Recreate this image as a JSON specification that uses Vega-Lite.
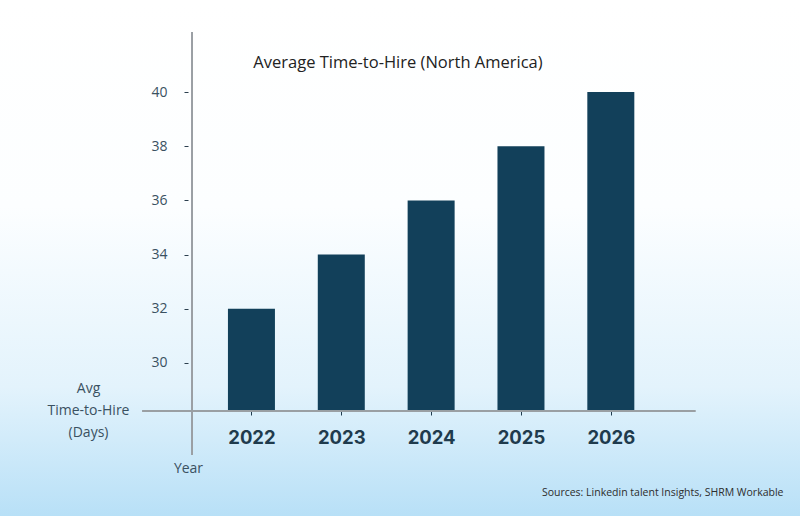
{
  "$schema": "https://vega.github.io/schema/vega-lite/v6.json",
  "autosize": {"type": "none"},
  "padding": 0,
  "width": 800,
  "height": 516,
  "background": "#ffffff",
  "config": {
    "view": {
      "stroke": null,
      "fill": {
        "gradient": "linear",
        "x1": 0, "y1": 0, "x2": 0, "y2": 1,
        "stops": [
          {"offset": 0, "color": "#ffffff"},
          {"offset": 0.4, "color": "#fcfeff"},
          {"offset": 0.75, "color": "#e3f3fc"},
          {"offset": 1, "color": "#b8e0f7"}
        ]
      }
    },
    "font": "Open Sans"
  },
  "title": {
    "text": "Average Time-to-Hire (North America)",
    "anchor": "middle",
    "fontSize": 16.5,
    "fontWeight": "normal",
    "font": "Open Sans",
    "color": "#222222",
    "baseline": "middle",
    "offset": 0,
    "dx": -2,
    "dy": 79
  },
  "data": {
    "values": [
      {"year": 2022, "days": 32},
      {"year": 2023, "days": 34},
      {"year": 2024, "days": 36},
      {"year": 2025, "days": 38},
      {"year": 2026, "days": 40}
    ]
  },
  "resolve": {"axis": {"x": "independent"}},
  "layer": [
    {
      "mark": {"type": "bar", "width": 47, "color": "#12405a"},
      "encoding": {
        "x": {
          "field": "year",
          "type": "quantitative",
          "scale": {"domain": [2019.257, 2028.05], "nice": false, "zero": false},
          "axis": {
            "orient": "bottom",
            "offset": -105,
            "values": [2022, 2023, 2024, 2025, 2026],
            "format": "d",
            "domain": false,
            "grid": false,
            "tickSize": 4,
            "tickColor": "#1f3b4d",
            "labelFont": "Inter",
            "labelFontSize": 18.5,
            "labelFontWeight": "bold",
            "labelColor": "#1f3b4d",
            "labelPadding": 13,
            "labelFlush": false,
            "title": "Year",
            "titleX": 188,
            "titleY": 57,
            "titleAlign": "center",
            "titleBaseline": "middle",
            "titleFont": "Open Sans",
            "titleFontSize": 14,
            "titleFontWeight": "normal",
            "titleColor": "#3a5161"
          }
        },
        "y": {
          "field": "days",
          "type": "quantitative",
          "scale": {"domain": [24.354, 43.395], "nice": false, "zero": false},
          "axis": {
            "orient": "left",
            "offset": -188,
            "values": [30, 32, 34, 36, 38, 40],
            "domain": false,
            "grid": false,
            "tickSize": 4,
            "tickColor": "#2b3f4e",
            "labelPadding": 17,
            "labelFont": "Open Sans",
            "labelFontSize": 14,
            "labelColor": "#3a5161",
            "title": ["Avg", "Time-to-Hire", "(Days)"],
            "titleAngle": 0,
            "titleX": -100,
            "titleY": 381,
            "titleAlign": "center",
            "titleBaseline": "top",
            "titleLineHeight": 22,
            "titleFont": "Open Sans",
            "titleFontSize": 14,
            "titleFontWeight": "normal",
            "titleColor": "#3a5161"
          }
        },
        "y2": {"datum": 28.229}
      }
    },
    {
      "mark": {"type": "rule", "color": "#9a9fa3", "strokeWidth": 1.5},
      "encoding": {
        "x": {
          "datum": 2020.787,
          "type": "quantitative",
          "axis": {
            "orient": "top",
            "offset": 0,
            "domain": false,
            "ticks": false,
            "labels": false,
            "grid": false,
            "title": "Sources: Linkedin talent Insights, SHRM Workable",
            "titleX": 783,
            "titleY": 492,
            "titleAlign": "right",
            "titleBaseline": "middle",
            "titleFont": "Open Sans",
            "titleFontSize": 10.5,
            "titleFontWeight": "normal",
            "titleColor": "#2d2d2d"
          }
        },
        "x2": {"datum": 2026.94},
        "y": {"datum": 28.229, "type": "quantitative"}
      }
    },
    {
      "mark": {"type": "rule", "color": "#9a9fa3", "strokeWidth": 1.5},
      "encoding": {
        "x": {"datum": 2021.341, "type": "quantitative", "axis": null},
        "y": {"datum": 42.214, "type": "quantitative"},
        "y2": {"datum": 26.605}
      }
    }
  ]
}
